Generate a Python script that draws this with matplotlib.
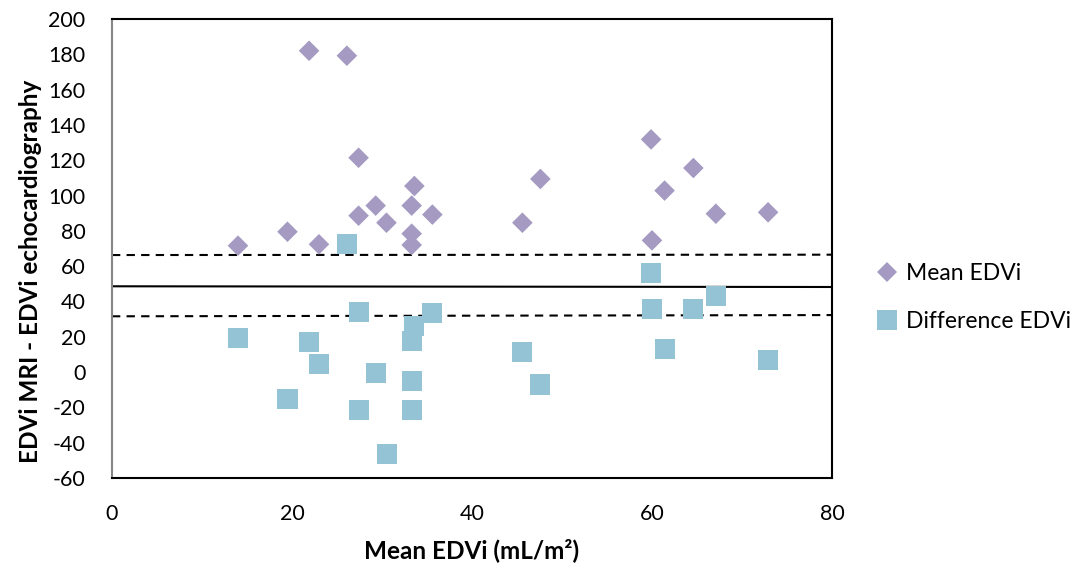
import matplotlib
matplotlib.use("Agg")
import matplotlib.pyplot as plt
from matplotlib.lines import Line2D

plt.rcParams['font.family'] = ['Lato', 'DejaVu Sans']
plt.rcParams['axes.unicode_minus'] = False

# Mean EDVi (x) for each pair
mean_x = [21.9, 26.1, 27.4, 33.6, 47.6, 29.3, 33.3, 27.4, 30.5, 35.6, 45.6,
          19.5, 33.3, 14.0, 23.0, 33.3, 59.9, 64.6, 61.4, 67.1, 72.9, 60.0]
# "Mean EDVi" series (diamonds)
mean_y = [182.0, 179.2, 121.4, 105.4, 109.4, 94.3, 94.3, 88.6, 84.6, 89.2, 84.6,
          79.5, 78.4, 71.6, 72.4, 72.0, 131.8, 115.6, 102.8, 89.7, 90.5, 74.6]

# "Difference EDVi" series (squares)
diff_x = [26.1, 27.4, 35.6, 33.6, 33.3, 14.0, 21.9, 23.0, 29.3, 33.3, 45.6,
          47.6, 19.5, 27.4, 33.3, 30.6, 59.9, 60.0, 64.6, 67.1, 61.4, 72.9]
diff_y = [72.4, 34.0, 33.3, 26.1, 17.6, 19.3, 17.0, 4.4, -0.3, -5.0, 11.6,
          -7.0, -15.1, -21.3, -21.5, -46.6, 56.0, 35.7, 35.9, 43.3, 13.3, 7.0]

# reference lines (start / end values)
line_x = [0, 80]
bias_line = [48.6, 48.2]
upper_line = [66.3, 66.5]
lower_line = [31.6, 32.3]

x_ticks = [0, 20, 40, 60, 80]
y_ticks = list(range(-60, 201, 20))

fig = plt.figure(figsize=(10.85, 5.72), dpi=100)
ax = fig.add_axes([0.1032, 0.1643, 0.6636, 0.8025])

purple = '#A59BC2'
blue = '#93C3D4'

ax.plot(line_x, bias_line, color='black', lw=1.5, zorder=2)
ax.plot(line_x, upper_line, color='black', lw=1.5, ls=(0, (4, 3)), zorder=2)
ax.plot(line_x, lower_line, color='black', lw=1.5, ls=(0, (4, 3)), zorder=2)

ax.scatter(mean_x, mean_y, marker='D', s=10.5**2, color=purple, edgecolors='none', zorder=3)
ax.scatter(diff_x, diff_y, marker='s', s=14.5**2, color=blue, edgecolors='none', zorder=3)

ax.set_xlim(0, 80)
ax.set_ylim(-60, 200)
ax.set_xticks(x_ticks)
ax.set_yticks(y_ticks)
ax.tick_params(length=0, labelsize=15.5)
ax.tick_params(axis='y', pad=19)
ax.tick_params(axis='x', pad=19)

for s in ['top', 'right', 'bottom']:
    ax.spines[s].set_color('black')
    ax.spines[s].set_linewidth(1.5)
ax.spines['left'].set_color('#868686')
ax.spines['left'].set_linewidth(1.5)

ax.set_xlabel('Mean EDVi (mL/m²)', fontsize=17.5, fontweight='bold', labelpad=10)
ax.set_ylabel('EDVi MRI - EDVi echocardiography', fontsize=17.5, fontweight='bold')
ax.yaxis.set_label_coords(-0.097, 0.451)

handles = [
    Line2D([], [], marker='D', ls='none', color=purple, markersize=10, markeredgewidth=0),
    Line2D([], [], marker='s', ls='none', color=blue, markersize=14, markeredgewidth=0),
]
fig.legend(handles, ['Mean EDVi', 'Difference EDVi'], loc='center left',
           bbox_to_anchor=(0.802, 0.480), frameon=False, fontsize=16.5,
           handlelength=0.7, handletextpad=0.45, labelspacing=1.15, borderaxespad=0)

fig.savefig('out.png', dpi=100)
